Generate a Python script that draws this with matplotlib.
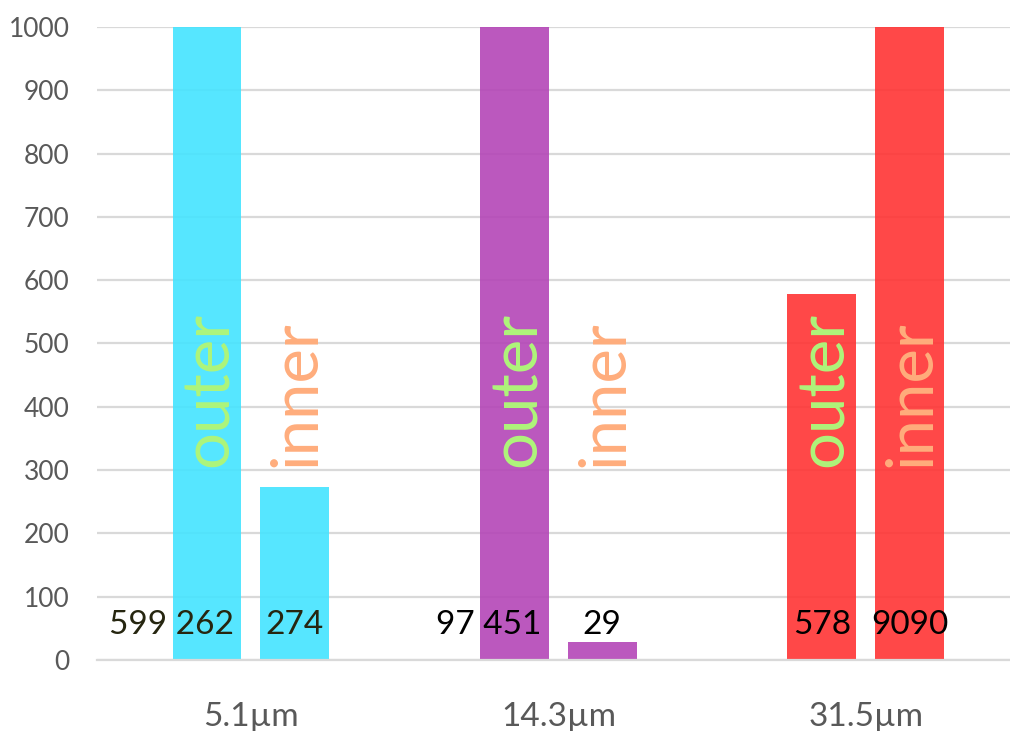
import numpy as np
import matplotlib.pyplot as plt

plt.rcParams['font.family'] = ['Lato', 'DejaVu Sans']

groups = ['5.1µm', '14.3µm', '31.5µm']
outer = [599262, 97451, 578]
inner = [274, 29, 9090]
colors = ['#44e4ff', '#b446b7', '#ff3434']
label_colors = ['#262610', '#000000', '#000000']


def fmt(v):
    # group thousands only from five digits up
    return f"{v:,}".replace(',', ' ') if v >= 10000 else str(v)


fig = plt.figure(figsize=(10.1, 7.31), dpi=100)
ax = fig.add_axes([0.0963, 0.0971, 0.913, 0.866])

x = np.arange(len(groups))
off = 0.143
w = 0.224

ax.bar(x - off, outer, w, color=colors, alpha=0.9, zorder=2)
ax.bar(x + off, inner, w, color=colors, alpha=0.9, zorder=2)

for i in range(len(groups)):
    for xi, v, name, c in [(x[i] - off, outer[i], 'outer', '#aef57a'),
                           (x[i] + off, inner[i], 'inner', '#ffad7c')]:
        s = fmt(v)
        if ' ' in s:
            # long numbers: last group sits over the bar, the rest spills left
            ax.text(xi + 0.087, 55, s, ha='right', va='center', fontsize=24,
                    color=label_colors[i], zorder=3)
        else:
            ax.text(xi, 55, s, ha='center', va='center', fontsize=24,
                    color=label_colors[i], zorder=3)
        ax.text(xi + 0.008, 305, name, rotation=90, ha='center', va='bottom',
                fontsize=47, color=c, zorder=3)

ax.set_xlim(-0.5, 2.5)
ax.set_ylim(0, 1000)
ax.set_yticks(np.arange(0, 1001, 100))
ax.set_xticks(x)
ax.set_xticklabels(groups)
ax.grid(axis='y', color='#d9d9d9', linewidth=1.6, zorder=0)
ax.set_axisbelow(True)
for s in ['left', 'right', 'top']:
    ax.spines[s].set_visible(False)
ax.spines['bottom'].set_color('#d9d9d9')
ax.spines['bottom'].set_linewidth(1.6)
ax.tick_params(axis='y', length=0, pad=20, labelsize=19, labelcolor='#595959')
ax.tick_params(axis='x', length=0, pad=30, labelsize=24, labelcolor='#595959')

fig.savefig('out.png', dpi=100)
